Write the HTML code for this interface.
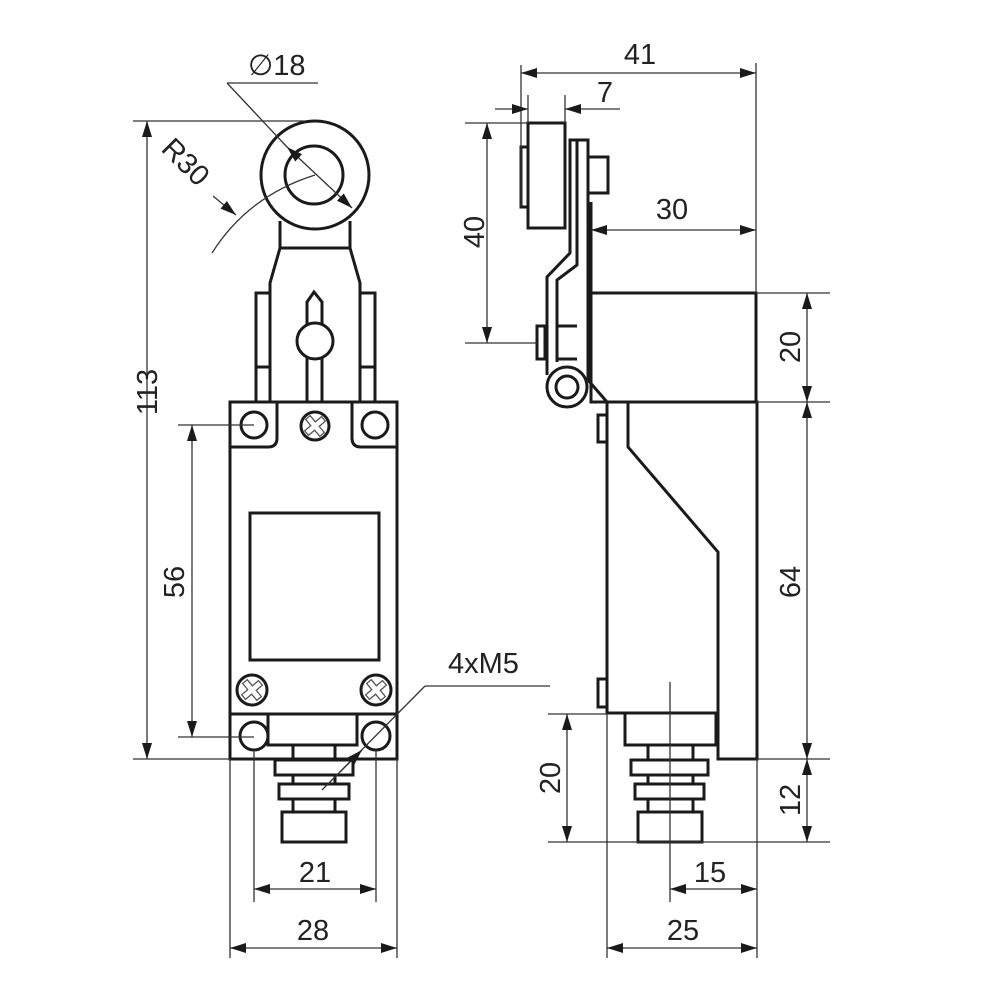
<!DOCTYPE html>
<html><head><meta charset="utf-8"><style>
html,body{margin:0;padding:0;background:#fff;width:1000px;height:1000px;overflow:hidden}
svg{display:block}
text{font-family:"Liberation Sans",Arial,sans-serif;font-size:29px;fill:#222}
.o{fill:none;stroke:#1a1a1a;stroke-width:3}
.t{fill:none;stroke:#333;stroke-width:1.3}
</style></head><body>
<svg width="1000" height="1000" viewBox="0 0 1000 1000" xmlns="http://www.w3.org/2000/svg">
<defs>
<marker id="a" viewBox="0 0 16 10" refX="16" refY="5" markerWidth="16" markerHeight="10" markerUnits="userSpaceOnUse" orient="auto-start-reverse"><path d="M0,0 L16,5 L0,10 z" fill="#1a1a1a"/></marker>
<g id="scr"><path d="M-3,-11 H3 V-3 H11 V3 H3 V11 H-3 V3 H-11 V-3 H-3 Z" transform="rotate(-40)" fill="none" stroke="#555" stroke-width="1.3"/></g>
</defs>

<!-- ===== LEFT VIEW ===== -->
<g class="o">
<circle cx="315" cy="175" r="54"/>
<circle cx="314" cy="175" r="29"/>
<path d="M280,221 V248 H350 V221"/>
<path d="M280,248 L270,283 V402 M350,248 L360,283 V402"/>
<rect x="256" y="293" width="14" height="109"/>
<line x1="256" y1="367" x2="270" y2="367"/>
<rect x="360" y="293" width="15" height="109"/>
<line x1="360" y1="367" x2="375" y2="367"/>
<path d="M307,402 V302 L314,292 L322,302 V402"/>
<circle cx="315" cy="341" r="18" fill="#fff"/>
<rect x="230" y="402" width="167" height="357"/>
<path d="M230,447 H268 Q277,447 277,438 V402"/>
<path d="M397,447 H361 Q352,447 352,438 V402"/>
<circle cx="254" cy="425" r="13"/>
<circle cx="375" cy="425" r="13"/>
<circle cx="315" cy="426" r="14"/>
<rect x="250" y="513" width="129" height="147"/>
<circle cx="252" cy="690" r="15"/>
<circle cx="376" cy="690" r="15"/>
<line x1="230" y1="714" x2="397" y2="714"/>
<circle cx="254" cy="736" r="14"/>
<circle cx="376" cy="736" r="14"/>
<rect x="268" y="714" width="89" height="31"/>
<path d="M293,745 V760 M335,745 V760"/>
<rect x="275" y="760" width="78" height="15"/>
<path d="M293,775 V784 M335,775 V784"/>
<rect x="279" y="784" width="70" height="15"/>
<path d="M293,799 V812 M335,799 V812"/>
<rect x="282" y="812" width="64" height="30"/>
</g>
<use href="#scr" x="315" y="426"/>
<use href="#scr" x="252" y="690"/>
<use href="#scr" x="376" y="690"/>

<!-- left dims -->
<g class="t">
<line x1="133" y1="121" x2="305" y2="121"/>
<line x1="133" y1="759" x2="230" y2="759"/>
<line x1="147" y1="121" x2="147" y2="759" marker-start="url(#a)" marker-end="url(#a)"/>
<line x1="178" y1="425" x2="254" y2="425"/>
<line x1="178" y1="737" x2="254" y2="737"/>
<line x1="192" y1="425" x2="192" y2="737" marker-start="url(#a)" marker-end="url(#a)"/>
<line x1="227" y1="83" x2="318" y2="83"/>
<line x1="227" y1="83" x2="287" y2="147"/>
<line x1="287" y1="147" x2="352" y2="208" marker-start="url(#a)" marker-end="url(#a)"/>
<path d="M212,253 Q248,196 315,175"/>
<line x1="213" y1="196" x2="236" y2="215" marker-end="url(#a)"/>
<line x1="425" y1="686" x2="550" y2="686"/>
<line x1="322" y1="790" x2="425" y2="686"/>
<line x1="340" y1="772" x2="362" y2="750" marker-end="url(#a)"/>
<line x1="254" y1="750" x2="254" y2="902"/>
<line x1="376" y1="750" x2="376" y2="902"/>
<line x1="254" y1="889" x2="376" y2="889" marker-start="url(#a)" marker-end="url(#a)"/>
<line x1="230" y1="759" x2="230" y2="958"/>
<line x1="397" y1="759" x2="397" y2="958"/>
<line x1="230" y1="948" x2="397" y2="948" marker-start="url(#a)" marker-end="url(#a)"/>
</g>
<text x="248" y="75">∅18</text>
<text x="0" y="0" transform="translate(160,150) rotate(45)">R30</text>
<text x="0" y="0" transform="translate(157,392) rotate(-90)" text-anchor="middle">113</text>
<text x="0" y="0" transform="translate(184,582) rotate(-90)" text-anchor="middle">56</text>
<text x="448" y="673">4xM5</text>
<text x="315" y="882" text-anchor="middle">21</text>
<text x="313" y="940" text-anchor="middle">28</text>

<!-- ===== RIGHT VIEW ===== -->
<g class="o">
<rect x="528" y="123" width="37" height="105"/>
<rect x="521" y="147" width="7" height="60"/>
<path d="M588,380 V140 H570 V253 L547,277 V375"/>
<path d="M577,140 V265 L557,280 V362"/>
<rect x="588" y="157" width="20" height="36"/>
<line x1="591" y1="202" x2="591" y2="382"/>
<rect x="537" y="326" width="8" height="33"/>
<path d="M557,326 H577 M557,359 H577"/>
<circle cx="567" cy="387" r="20" fill="#fff"/>
<circle cx="567" cy="387" r="11"/>
<path d="M588,380 L607,402"/>
<rect x="591" y="293" width="165" height="109"/>
<path d="M607,402 V713 H718 M628,402 V447 L718,552 V759 H757 V402 H607"/>
<rect x="598" y="415" width="9" height="27"/>
<rect x="598" y="679" width="9" height="28"/>
<rect x="625" y="713" width="91" height="32"/>
<path d="M648,745 V760 M693,745 V760"/>
<rect x="631" y="760" width="77" height="15"/>
<path d="M648,775 V784 M693,775 V784"/>
<rect x="635" y="784" width="69" height="15"/>
<path d="M648,799 V812 M693,799 V812"/>
<rect x="638" y="812" width="64" height="30"/>
</g>
<g class="t">
<line x1="670" y1="682" x2="670" y2="902"/>
<line x1="521" y1="65" x2="521" y2="207"/>
<line x1="756" y1="63" x2="756" y2="293"/>
<line x1="521" y1="73" x2="756" y2="73" marker-start="url(#a)" marker-end="url(#a)"/>
<line x1="528" y1="95" x2="528" y2="123"/>
<line x1="565" y1="95" x2="565" y2="123"/>
<line x1="495" y1="109" x2="528" y2="109" marker-end="url(#a)"/>
<line x1="620" y1="109" x2="565" y2="109" marker-end="url(#a)"/>
<line x1="465" y1="123" x2="528" y2="123"/>
<line x1="465" y1="343" x2="537" y2="343"/>
<line x1="487" y1="123" x2="487" y2="343" marker-start="url(#a)" marker-end="url(#a)"/>
<line x1="591" y1="230" x2="756" y2="230" marker-start="url(#a)" marker-end="url(#a)"/>
<line x1="756" y1="293" x2="830" y2="293"/>
<line x1="756" y1="402" x2="830" y2="402"/>
<line x1="757" y1="759" x2="830" y2="759"/>
<line x1="548" y1="842" x2="830" y2="842"/>
<line x1="548" y1="714" x2="607" y2="714"/>
<line x1="807" y1="293" x2="807" y2="402" marker-start="url(#a)" marker-end="url(#a)"/>
<line x1="807" y1="402" x2="807" y2="759" marker-start="url(#a)" marker-end="url(#a)"/>
<line x1="807" y1="759" x2="807" y2="842" marker-start="url(#a)" marker-end="url(#a)"/>
<line x1="567" y1="714" x2="567" y2="842" marker-start="url(#a)" marker-end="url(#a)"/>
<line x1="670" y1="889" x2="757" y2="889" marker-start="url(#a)" marker-end="url(#a)"/>
<line x1="607" y1="713" x2="607" y2="958"/>
<line x1="757" y1="759" x2="757" y2="958"/>
<line x1="607" y1="948" x2="757" y2="948" marker-start="url(#a)" marker-end="url(#a)"/>
</g>
<text x="640" y="64" text-anchor="middle">41</text>
<text x="605" y="102" text-anchor="middle">7</text>
<text x="672" y="219" text-anchor="middle">30</text>
<text x="0" y="0" transform="translate(484,232) rotate(-90)" text-anchor="middle">40</text>
<text x="0" y="0" transform="translate(800,347) rotate(-90)" text-anchor="middle">20</text>
<text x="0" y="0" transform="translate(800,582) rotate(-90)" text-anchor="middle">64</text>
<text x="0" y="0" transform="translate(800,800) rotate(-90)" text-anchor="middle">12</text>
<text x="0" y="0" transform="translate(560,778) rotate(-90)" text-anchor="middle">20</text>
<text x="710" y="882" text-anchor="middle">15</text>
<text x="683" y="940" text-anchor="middle">25</text>
</svg>
</body></html>
